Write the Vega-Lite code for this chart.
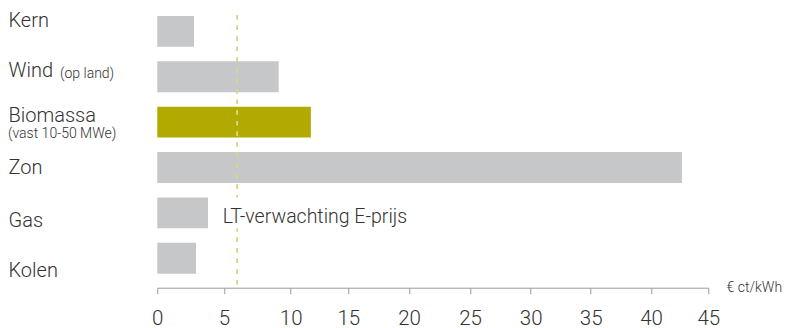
{
  "$schema": "https://vega.github.io/schema/vega-lite/v6.json",
  "width": 551,
  "height": 272.7,
  "autosize": {"type": "none"},
  "padding": {"left": 157.3, "top": 15, "right": 87.7, "bottom": 40.3},
  "background": "white",
  "config": {"view": {"stroke": null}, "font": "Roboto"},
  "layer": [
    {
      "data": {
        "values": [
          {"bron": "Kern", "kosten": 2.75},
          {"bron": "Wind", "kosten": 9.1},
          {"bron": "Biomassa", "kosten": 11.75},
          {"bron": "Zon", "kosten": 42.7},
          {"bron": "Gas", "kosten": 3.8},
          {"bron": "Kolen", "kosten": 2.9}
        ]
      },
      "layer": [
        {
          "mark": {"type": "bar"},
          "encoding": {
            "y": {
              "field": "bron",
              "type": "nominal",
              "scale": {
                "domain": ["Kern", "Wind", "Biomassa", "Zon", "Gas", "Kolen"],
                "range": [-6.35, 266],
                "paddingInner": 0.32,
                "paddingOuter": 0.16
              },
              "axis": null
            },
            "x": {
              "field": "kosten",
              "type": "quantitative",
              "scale": {
                "domain": [0, 5, 10, 15, 20, 25, 30, 35, 40, 45],
                "range": [0, 66.7, 133.4, 191, 251.7, 312.7, 373.4, 433.4, 493.7, 551],
                "nice": false,
                "zero": false
              },
              "axis": {
                "orient": "bottom",
                "values": [0, 5, 10, 15, 20, 25, 30, 35, 40, 45],
                "format": "d",
                "grid": false,
                "domainColor": "#9a9a9a",
                "tickColor": "#9a9a9a",
                "tickSize": 6,
                "labelFontSize": 20.5,
                "labelFontWeight": 300,
                "labelColor": "#333333",
                "labelPadding": 30.5,
                "labelBaseline": "alphabetic",
                "labelFlush": false,
                "labelOverlap": false,
                "title": "€ ct/kWh",
                "titleX": 568.7,
                "titleY": 0,
                "titleAlign": "left",
                "titleAnchor": "start",
                "titleBaseline": "middle",
                "titleFontSize": 14,
                "titleFontWeight": 300,
                "titleColor": "#333333"
              }
            },
            "color": {
              "condition": {"test": "datum.bron === 'Biomassa'", "value": "#b3aa00"},
              "value": "#c6c7c8"
            }
          }
        },
        {
          "mark": {"type": "rule", "color": "#d8d48c", "strokeWidth": 1.2, "strokeDash": [4.3, 6.3]},
          "encoding": {"x": {"datum": 6, "type": "quantitative"}}
        },
        {
          "transform": [{"filter": "datum.bron === 'Gas'"}],
          "mark": {"type": "bar", "color": "white"},
          "encoding": {
            "y": {"field": "bron", "type": "nominal"},
            "x": {"datum": 5.4, "type": "quantitative"},
            "x2": {"datum": 6.6}
          }
        },
        {
          "transform": [{"filter": "datum.bron === 'Gas'"}],
          "mark": {
            "type": "text",
            "text": "LT-verwachting E-prijs",
            "align": "left",
            "baseline": "alphabetic",
            "dy": 10,
            "fontSize": 19.5,
            "fontWeight": 300,
            "color": "#333333"
          },
          "encoding": {
            "y": {"field": "bron", "type": "nominal"},
            "x": {"datum": 4.9, "type": "quantitative"}
          }
        }
      ]
    },
    {
      "data": {
        "values": [
          {"bron": "Kern", "sub": ""},
          {"bron": "Wind", "sub": "(op land)"},
          {"bron": "Biomassa", "sub": "(vast 10-50 MWe)"},
          {"bron": "Zon", "sub": ""},
          {"bron": "Gas", "sub": ""},
          {"bron": "Kolen", "sub": ""}
        ]
      },
      "encoding": {
        "y": {
          "field": "bron",
          "type": "nominal",
          "scale": {
            "type": "point",
            "domain": ["Kern", "Wind", "Biomassa", "Zon", "Gas", "Kolen"],
            "range": [11.3, 261.3],
            "padding": 0
          },
          "axis": {
            "orient": "left",
            "title": null,
            "domain": false,
            "ticks": false,
            "tickSize": 0,
            "grid": false,
            "labelAlign": "left",
            "labelBaseline": "alphabetic",
            "labelPadding": 149.3,
            "labelFontSize": 20,
            "labelFontWeight": 300,
            "labelColor": "#333333",
            "labelOverlap": false,
            "labelBound": false,
            "labelOffset": {
              "condition": [
                {"test": "datum.value === 'Biomassa'", "value": -4.6},
                {"test": "datum.value === 'Zon'", "value": -2.5}
              ],
              "value": 0
            }
          }
        }
      },
      "layer": [
        {
          "transform": [{"filter": "datum.bron === 'Wind'"}],
          "mark": {"type": "text", "align": "left", "baseline": "alphabetic", "dy": 1.7, "fontSize": 14, "fontWeight": 300, "color": "#333333"},
          "encoding": {"text": {"field": "sub"}, "x": {"value": -97.3}}
        },
        {
          "transform": [{"filter": "datum.bron === 'Biomassa'"}],
          "mark": {"type": "text", "align": "left", "baseline": "alphabetic", "dy": 12, "fontSize": 14, "fontWeight": 300, "color": "#333333"},
          "encoding": {"text": {"field": "sub"}, "x": {"value": -149.3}}
        }
      ]
    }
  ],
  "resolve": {"scale": {"y": "independent"}, "axis": {"y": "independent"}}
}
